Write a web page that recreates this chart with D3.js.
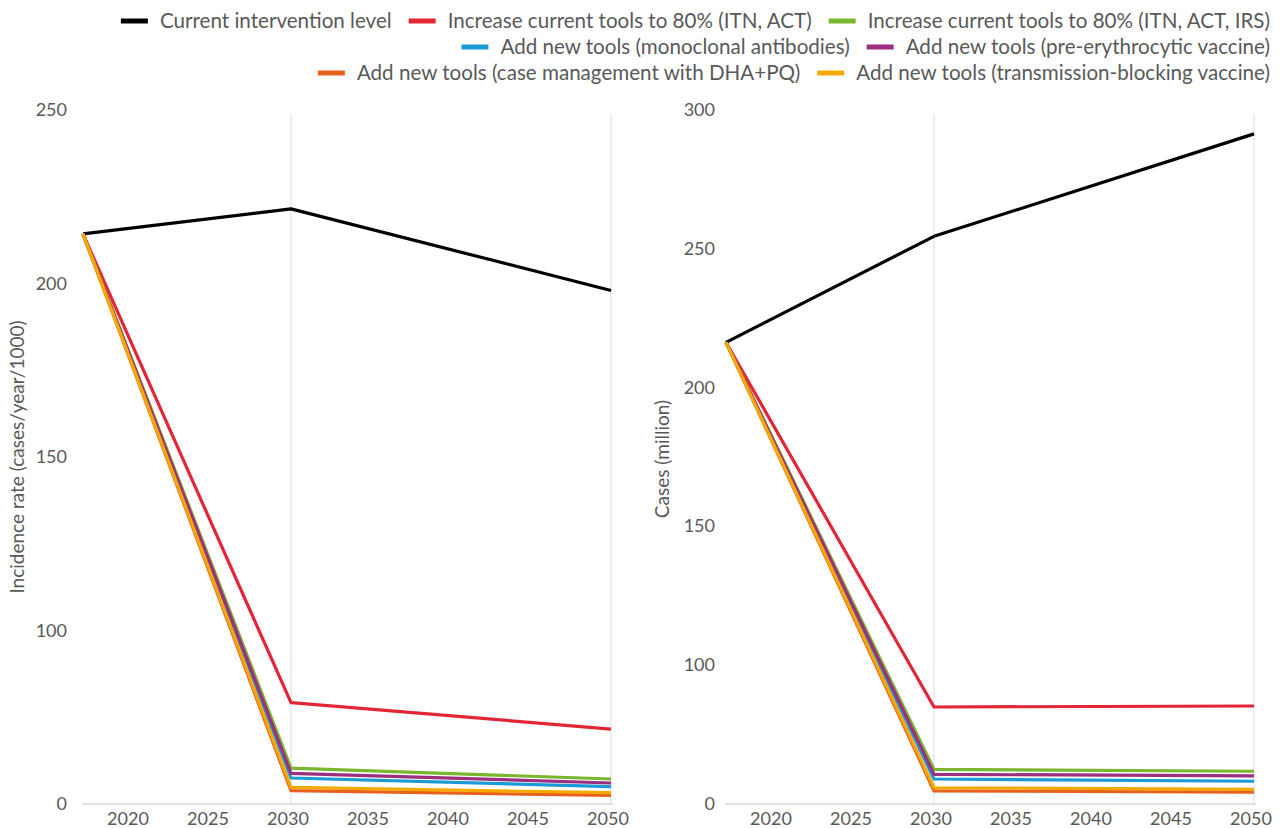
<!DOCTYPE html>
<html>
<head>
<meta charset="utf-8">
<script src="https://cdn.jsdelivr.net/npm/d3@7"></script>
<style>
  html, body { margin: 0; padding: 0; background: #ffffff; }
  svg { display: block; }
  text { font-family: Lato, "Noto Sans", sans-serif; fill: #595959; }
</style>
</head>
<body>
<svg id="chart" width="1279" height="828"></svg>
<script>
// ---------- data ----------
const years = [2017, 2030, 2050];
const xTickValues = [2020, 2025, 2030, 2035, 2040, 2045, 2050];
const gridYears = [2030, 2050];

const seriesNames = [
  "Current intervention level",
  "Increase current tools to 80% (ITN, ACT)",
  "Increase current tools to 80% (ITN, ACT, IRS)",
  "Add new tools (monoclonal antibodies)",
  "Add new tools (pre-erythrocytic vaccine)",
  "Add new tools (case management with DHA+PQ)",
  "Add new tools (transmission-blocking vaccine)"
];
const seriesColors = ["#000000", "#e32636", "#7bb72e", "#1a9ad6", "#9c2f80", "#e8601c", "#f5a800"];

// Left panel: incidence rate (cases/year/1000)
const incidenceCurrent   = [214.3, 221.5, 198.0];
const incidenceITNACT    = [214.3, 58.4, 43.2];
const incidenceITNACTIRS = [214.3, 20.7, 14.4];
const incidenceMAb       = [214.3, 15.0, 10.0];
const incidencePEV       = [214.3, 17.7, 12.1];
const incidenceDHAPQ     = [214.3, 7.7, 5.0];
const incidenceTBV       = [214.3, 9.6, 6.5];
const incidenceTicks = [0, 100, 150, 200, 250];
const incidenceTickLabels = ["0", "100", "150", "200", "250"];

// Right panel: cases (million)
const casesCurrent   = [216.3, 254.5, 291.4];
const casesITNACT    = [216.3, 69.9, 70.6];
const casesITNACTIRS = [216.3, 25.0, 23.6];
const casesMAb       = [216.3, 18.0, 16.4];
const casesPEV       = [216.3, 21.4, 20.2];
const casesDHAPQ     = [216.3, 9.4, 8.6];
const casesTBV       = [216.3, 11.7, 10.6];
const casesTicks = [0, 100, 150, 200, 250, 300];
const casesTickLabels = ["0", "100", "150", "200", "250", "300"];

const legendRows = [[0, 1, 2], [3, 4], [5, 6]];

// ---------- drawing ----------
const svg = d3.select("#chart");

function panel(cfg) {
  const g = svg.append("g");
  const x = d3.scaleLinear().domain([years[0], years[years.length - 1]]).range([cfg.left, cfg.right]);
  const n = cfg.ticks.length;
  const yRange = cfg.ticks.map((t, i) => cfg.bottom - i * (cfg.bottom - cfg.top) / (n - 1));
  const y = d3.scaleLinear().domain(cfg.ticks).range(yRange);

  // vertical gridlines
  g.selectAll("line.grid").data(gridYears).join("line")
    .attr("x1", d => x(d)).attr("x2", d => x(d))
    .attr("y1", cfg.top + 4).attr("y2", cfg.bottom)
    .attr("stroke", "#e3e3e3").attr("stroke-width", 1.2);

  // x axis line
  g.append("line")
    .attr("x1", cfg.left - 1).attr("x2", cfg.right + 2)
    .attr("y1", y(0)).attr("y2", y(0))
    .attr("stroke", "#d9d9d9").attr("stroke-width", 1.5);

  // x tick labels
  g.selectAll("text.xt").data(xTickValues).join("text")
    .attr("x", d => x(d) - 3).attr("y", cfg.bottom + 21)
    .attr("text-anchor", "middle").attr("font-size", 18)
    .text(d => d);

  // y tick labels
  g.selectAll("text.yt").data(cfg.ticks).join("text")
    .attr("x", cfg.yLabelX).attr("y", d => y(d) + 6)
    .attr("text-anchor", "end").attr("font-size", 18)
    .text((d, i) => cfg.tickLabels[i]);

  // y axis title
  g.append("text")
    .attr("transform", `translate(${cfg.titleX},${cfg.titleY}) rotate(-90)`)
    .attr("text-anchor", "middle").attr("font-size", 19)
    .text(cfg.title);

  // lines
  const line = d3.line().x((d, i) => x(years[i])).y(d => y(d));
  g.selectAll("path.series").data(cfg.series).join("path")
    .attr("d", d => line(d))
    .attr("fill", "none")
    .attr("stroke", (d, i) => seriesColors[i])
    .attr("stroke-width", 3.2)
    .attr("stroke-linejoin", "round");
}

panel({
  left: 83, right: 611, top: 110, bottom: 804,
  ticks: incidenceTicks, tickLabels: incidenceTickLabels,
  yLabelX: 67, title: "Incidence rate (cases/year/1000)", titleX: 24, titleY: 457,
  series: [incidenceCurrent, incidenceITNACT, incidenceITNACTIRS, incidenceMAb, incidencePEV, incidenceDHAPQ, incidenceTBV]
});

panel({
  left: 726, right: 1254, top: 110, bottom: 804,
  ticks: casesTicks, tickLabels: casesTickLabels,
  yLabelX: 715, title: "Cases (million)", titleX: 669, titleY: 459,
  series: [casesCurrent, casesITNACT, casesITNACTIRS, casesMAb, casesPEV, casesDHAPQ, casesTBV]
});

// legend (right-aligned rows)
const legendRight = 1270, swatchW = 27, swatchGap = 12, itemGap = 17;
legendRows.forEach((row, r) => {
  const gy = 21 + r * 26;
  const rowG = svg.append("g");
  const items = [];
  row.forEach(idx => {
    const it = rowG.append("g");
    it.append("line").attr("x1", 0).attr("x2", swatchW).attr("y1", 0).attr("y2", 0)
      .attr("stroke", seriesColors[idx]).attr("stroke-width", 5);
    const t = it.append("text").attr("x", swatchW + swatchGap).attr("y", 7)
      .attr("font-size", 20.6).text(seriesNames[idx]);
    const w = swatchW + swatchGap + t.node().getComputedTextLength();
    items.push({ it, w });
  });
  const total = d3.sum(items, d => d.w) + itemGap * (items.length - 1);
  let xPos = legendRight - total;
  items.forEach(d => {
    d.it.attr("transform", `translate(${xPos},${gy})`);
    xPos += d.w + itemGap;
  });
});
</script>
</body>
</html>
